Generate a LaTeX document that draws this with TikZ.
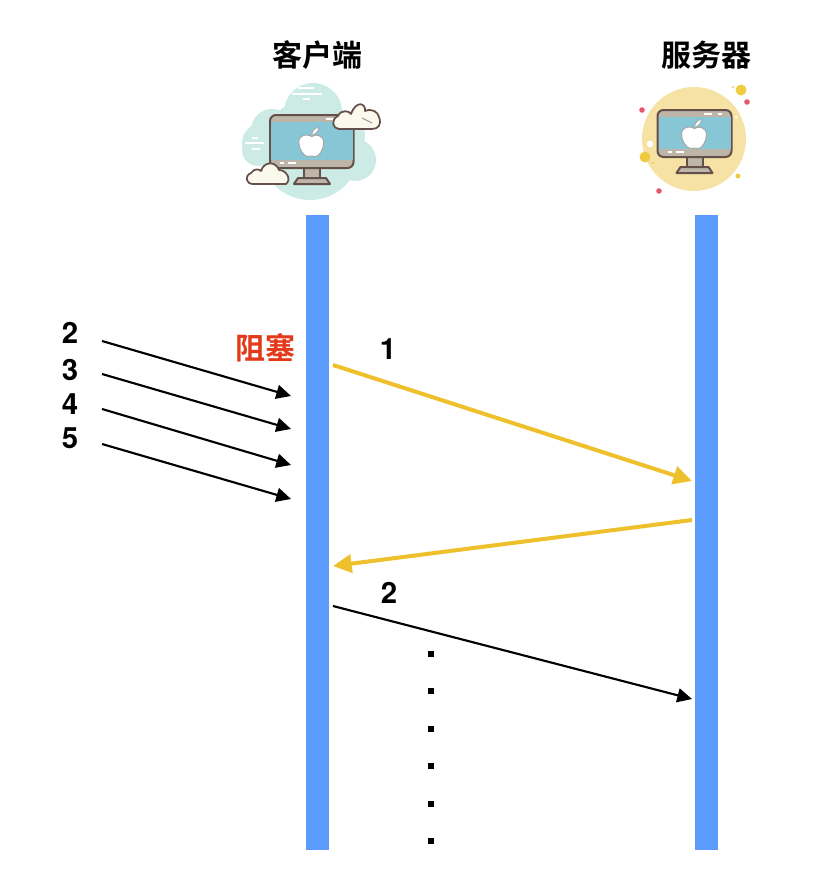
\documentclass[tikz,border=0pt]{standalone}
\usepackage{fontspec}
\setmainfont{TeX Gyre Heros}
\newfontfamily\cjk{Noto Sans CJK SC}[BoldFont={* Bold}]
\usetikzlibrary{arrows.meta}
\definecolor{barblue}{HTML}{5B9BFB}
\definecolor{goldline}{HTML}{EDC02C}
\definecolor{redtext}{HTML}{E33A1C}
\definecolor{mint}{HTML}{CBEBE4}
\definecolor{sand}{HTML}{F6E2A4}
\definecolor{framec}{HTML}{BDB5A8}
\definecolor{edgec}{HTML}{64504A}
\definecolor{screenc}{HTML}{86C6D5}
\definecolor{cloudc}{HTML}{FBF8EC}
\definecolor{dotred}{HTML}{E4596A}
\definecolor{dotyellow}{HTML}{EFCB3F}
\tikzset{
  x=0.75pt,y=-0.75pt,
  bar/.style={fill=barblue,draw=none,minimum width=17.25pt,inner sep=0pt,anchor=north},
  title/.style={font=\cjk\bfseries\fontsize{22.5}{25}\selectfont,text=black,inner sep=0pt},
  num/.style={font=\bfseries\fontsize{22}{24}\selectfont,text=black,inner sep=0pt},
  dotmark/.style={text=black,inner sep=0pt},
  blackarrow/.style={draw=black,line width=1.6pt,-{Triangle[length=11pt,width=10.5pt]}},
  goldarrow/.style={draw=goldline,line width=3pt,-{Triangle[length=14pt,width=13.5pt]}},
  monoedge/.style={draw=edgec,line width=1.5pt,line join=round},
  cloudshape/.style={fill=cloudc,draw=edgec,line width=1.3pt,line join=round},
}
\newcommand{\drawmonitor}[5]{%
  \fill[framec] (#5-8,#4) rectangle (#5+8,#4+9);
  \draw[monoedge] (#5-8,#4) -- (#5-8,#4+9) (#5+8,#4) -- (#5+8,#4+9);
  \draw[monoedge,fill=framec] (#5-18,#4+16) -- (#5-14,#4+10) -- (#5+14,#4+10) -- (#5+18,#4+16) -- cycle;
  \draw[monoedge,fill=framec,rounded corners=4.5pt] (#1,#2) rectangle (#3,#4);
  \fill[screenc] (#1+1,#2+7) rectangle (#3-1,#4-8);
  \draw[white,line width=.8pt] (#3-28,#2+4) -- (#3-20,#2+4) (#3-14,#2+4) -- (#3-10,#2+4)
    (#1+10,#4-5) -- (#1+14,#4-5) (#1+18,#4-5) -- (#1+26,#4-5);
  \begin{scope}[shift={({(#1+#3)/2},{(#2+#4)/2+1})}]
    \draw[fill=white,draw=black!35,line width=.7pt]
      (0,-6) .. controls (4,-9) and (12,-7) .. (12,0)
      .. controls (12,7) and (7,14) .. (4,14)
      .. controls (1,14) and (-1,13) .. (-4,14)
      .. controls (-8,14) and (-13,6) .. (-13,0)
      .. controls (-13,-8) and (-5,-9) .. (0,-6) -- cycle;
    \fill[white,draw=black!35,line width=.6pt] (0,-7) .. controls (0,-11) and (3,-15) .. (7,-15) .. controls (7,-11) and (3,-8) .. (0,-7) -- cycle;
  \end{scope}
}
\begin{document}
\begin{tikzpicture}
\useasboundingbox (0,0) rectangle (835,881);
\node[bar,minimum height=476.25pt] (clientbar) at (317.5,215) {};
\node[bar,minimum height=476.25pt] (serverbar) at (706.5,215) {};
\node[title] (clienttitle) at (317,55) {客户端};
\node[title] (servertitle) at (706,55) {服务器};
% client icon
\fill[mint] (313,112) circle (29) (262,143) circle (20) (272,130) circle (21)
  (258,150) circle (16) (310,150) circle (50) (355,160) circle (21) (340,135) circle (25);
\draw[white,line width=1pt] (298,88) -- (314,88) (292,94) -- (322,94) (303,99) -- (310,99)
  (252,138) -- (258,138) (245,143) -- (264,143) (252,149) -- (260,149);
\drawmonitor{270}{115}{353.5}{168}{312}
\draw[cloudshape] (339,129) .. controls (333,129) and (330,120) .. (338,116)
  .. controls (341,109) and (350,111) .. (351,114) .. controls (356,100) and (366,103) .. (365,111)
  .. controls (372,108) and (378,112) .. (379,117) .. controls (382,125) and (378,129) .. (372,129) -- cycle;
\draw[edgec!60,line width=.7pt] (362,118) -- (372,123);
\draw[cloudshape] (253,184) .. controls (246,184) and (244,176) .. (251,173)
  .. controls (256,167) and (260,170) .. (261,171) .. controls (264,161) and (276,161) .. (279,170)
  .. controls (286,170) and (292,179) .. (286,184) -- cycle;
% server icon
\fill[sand] (694,139) circle (52);
\drawmonitor{657.5}{110}{731.5}{157}{694.5}
\fill[dotyellow] (741,90) circle (5.5) (645,157) circle (5.5) (738,176) circle (2.5)
  (733,87) circle (1.2) (653,163) circle (1.2);
\fill[dotred] (747,102) circle (2.8) (642,110) circle (2.8) (659,191) circle (2.8);
\fill[white] (650,144) circle (3.3) (736,117) circle (1.5);
% labels
\node[num] (n2) at (70,333) {2};
\node[num] (n3) at (70,370) {3};
\node[num] (n4) at (70,404) {4};
\node[num] (n5) at (70,438) {5};
\node[font=\cjk\bfseries\fontsize{22.5}{25}\selectfont,text=redtext,inner sep=0pt] (block) at (265,348) {阻塞};
\node[num] (m1) at (388,349) {1};
\node[num] (m2) at (389,593) {2};
\coordinate (a2s) at (102,341); \coordinate (a2e) at (291,396);
\coordinate (a3s) at (102,374); \coordinate (a3e) at (291,429);
\coordinate (a4s) at (102,409); \coordinate (a4e) at (291,465);
\coordinate (a5s) at (102,444); \coordinate (a5e) at (291,499);
\coordinate (g1s) at (333,365); \coordinate (g1e) at (692,481);
\coordinate (g2s) at (692,520); \coordinate (g2e) at (333,566);
\coordinate (b2s) at (333,606); \coordinate (b2e) at (692,699);
\draw[blackarrow] (a2s) -- (a2e);
\draw[blackarrow] (a3s) -- (a3e);
\draw[blackarrow] (a4s) -- (a4e);
\draw[blackarrow] (a5s) -- (a5e);
\draw[goldarrow] (g1s) -- (g1e);
\draw[goldarrow] (g2s) -- (g2e);
\draw[blackarrow] (b2s) -- (b2e);
\foreach \i/\y in {1/654,2/691,3/729,4/766,5/804,6/841}
  \node[dotmark] (d\i) at (431,\y) {\rule{4pt}{4pt}};
\end{tikzpicture}
\end{document}
